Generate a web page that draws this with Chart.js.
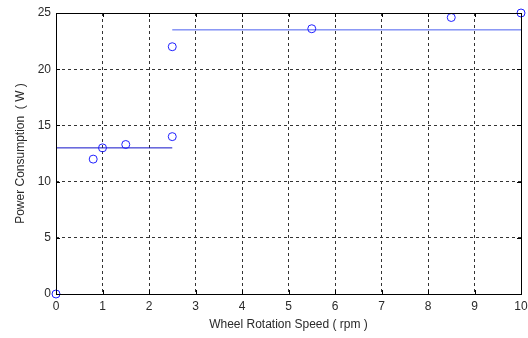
<!DOCTYPE html>
<html>
<head>
<meta charset="utf-8">
<script src="https://cdn.jsdelivr.net/npm/chart.js@4/dist/chart.umd.min.js"></script>
<style>
  html, body { margin: 0; padding: 0; background: #fff; }
  #wrap { width: 528px; height: 338px; }
</style>
</head>
<body>
<div id="wrap"><canvas id="powerChart" width="528" height="338"></canvas></div>
<script>
// measured points
var speedValues = [0, 0.8, 1, 1.5, 2.5, 2.5, 5.5, 8.5, 10];
var powerValues = [0, 12, 13, 13.3, 14, 22, 23.6, 24.6, 25];

// fitted levels
var lowX = [0, 2.5];
var lowY = [13, 13];
var highX = [2.5, 10];
var highY = [23.5, 23.5];

var xTicks = [0, 1, 2, 3, 4, 5, 6, 7, 8, 9, 10];
var yTicks = [0, 5, 10, 15, 20, 25];

function toPoints(xs, ys) {
    var pts = [];
    for (var i = 0; i < xs.length; i++)
        pts.push({ x: xs[i], y: ys[i] });
    return pts;
}

// black box around the plot + inward tick marks, matlab style
var boxPlugin = {
    id: "box",
    afterDraw: function (chart) {
        var ctx = chart.ctx;
        var a = chart.chartArea;
        var xs = chart.scales.x, ys = chart.scales.y;
        ctx.save();
        ctx.strokeStyle = "#000";
        ctx.lineWidth = 1;
        ctx.setLineDash([]);
        ctx.strokeRect(Math.round(a.left) + 0.5, Math.round(a.top) + 0.5,
            Math.round(a.right - a.left), Math.round(a.bottom - a.top));
        ctx.beginPath();
        xTicks.forEach(function (t) {
            var px = Math.round(xs.getPixelForValue(t)) + 0.5;
            ctx.moveTo(px, a.bottom); ctx.lineTo(px, a.bottom - 4);
            ctx.moveTo(px, a.top); ctx.lineTo(px, a.top + 4);
        });
        yTicks.forEach(function (t) {
            var py = Math.round(ys.getPixelForValue(t)) + 0.5;
            ctx.moveTo(a.left, py); ctx.lineTo(a.left + 4, py);
            ctx.moveTo(a.right, py); ctx.lineTo(a.right - 4, py);
        });
        ctx.stroke();
        ctx.restore();
    }
};

Chart.defaults.font.family = "'Liberation Sans', Arial, sans-serif";
Chart.defaults.font.size = 12;
Chart.defaults.color = "#2a2a2a";

chart = new Chart("powerChart", {
    type: "scatter",
    data: {
        datasets: [{
            data: toPoints(speedValues, powerValues),
            showLine: false,
            pointStyle: "circle",
            pointRadius: 4,
            pointBorderWidth: 1,
            pointBorderColor: "#2020ff",
            pointBackgroundColor: "rgba(0,0,0,0)",
            clip: false
        }, {
            data: toPoints(lowX, lowY),
            showLine: true,
            borderColor: "#1010c8",
            borderWidth: 1,
            pointRadius: 0
        }, {
            data: toPoints(highX, highY),
            showLine: true,
            borderColor: "#4a5ff0",
            borderWidth: 1,
            pointRadius: 0
        }]
    },
    options: {
        responsive: false,
        animation: false,
        layout: { autoPadding: false, padding: { top: 13, right: 7, left: 0, bottom: 0 } },
        plugins: {
            legend: { display: false },
            tooltip: { enabled: false }
        },
        scales: {
            x: {
                type: "linear",
                min: 0, max: 10,
                afterBuildTicks: function (s) { s.ticks = xTicks.map(function (v) { return { value: v }; }); },
                afterFit: function (s) { s.height = 44; s.paddingLeft = 0; s.paddingRight = 0; },
                ticks: { padding: 5, maxRotation: 0, autoSkip: false },
                grid: { color: "#333", drawTicks: false, lineWidth: 1 },
                border: { display: false, dash: [3, 3] },
                title: {
                    display: true,
                    text: "Wheel Rotation Speed ( rpm )",
                    padding: { top: 0, bottom: 6 }
                }
            },
            y: {
                type: "linear",
                min: 0, max: 25,
                afterBuildTicks: function (s) { s.ticks = yTicks.map(function (v) { return { value: v }; }); },
                afterFit: function (s) { s.width = 56; s.paddingTop = 0; s.paddingBottom = 0; },
                ticks: { padding: 5, autoSkip: false },
                grid: { color: "#333", drawTicks: false, lineWidth: 1 },
                border: { display: false, dash: [3, 3] },
                title: {
                    display: true,
                    text: "Power Consumption  ( W )",
                    padding: { top: 13, bottom: 0 }
                }
            }
        }
    },
    plugins: [boxPlugin]
});
</script>
</body>
</html>
